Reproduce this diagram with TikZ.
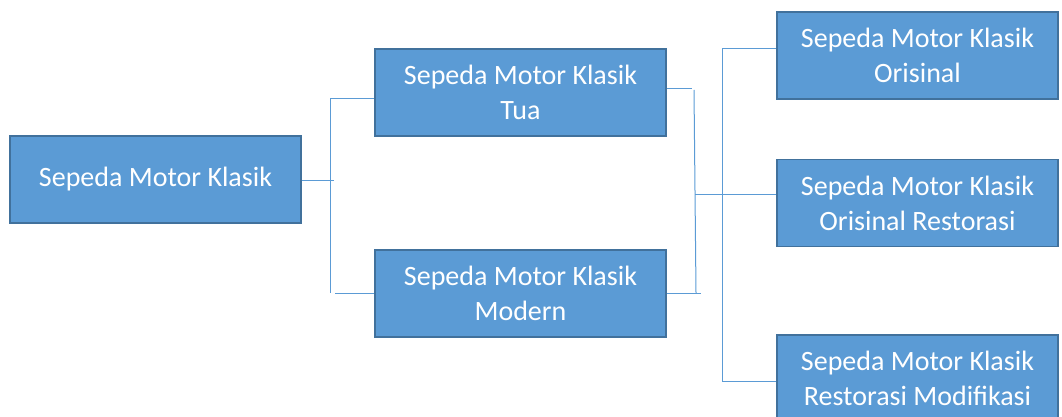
\documentclass[tikz,border=0pt]{standalone}
\usepackage{fontspec}
\setmainfont{Carlito}
\definecolor{boxfill}{HTML}{5B9BD5}
\definecolor{boxedge}{HTML}{41719C}
\definecolor{linkc}{HTML}{5B9BD5}
\tikzset{
  box/.style={draw=boxedge, line width=1.2pt, fill=boxfill, text=white,
    minimum height=87pt, inner sep=0pt, align=center,
    font=\fontsize{28}{35}\selectfont},
  link/.style={draw=linkc, line width=1pt}
}
\begin{document}
\begin{tikzpicture}[x=1pt,y=-1pt]
\useasboundingbox (0,0) rectangle (1062,417);
\clip (0,0) rectangle (1062,417);
\node[box, minimum width=291pt] (a) at (155.5,179.5) {Sepeda Motor Klasik};
\node[box, minimum width=291pt] (b) at (520.5,92.5) {Sepeda Motor Klasik\\Tua};
\node[box, minimum width=291pt] (c) at (520.5,293.5) {Sepeda Motor Klasik\\Modern};
\node[box, minimum width=281pt] (r1) at (917.5,55.5) {Sepeda Motor Klasik\\Orisinal};
\node[box, minimum width=281pt] (r2) at (917.5,203) {Sepeda Motor Klasik\\Orisinal Restorasi};
\node[box, minimum width=281pt] (r3) at (917.5,378.5) {Sepeda Motor Klasik\\Restorasi Modifikasi};
% left connectors
\coordinate (a1) at (334,180);
\coordinate (v1t) at (330,99);
\coordinate (v1b) at (330,293);
\coordinate (c1) at (335,293);
\draw[link] (a.east |- a1) -- (a1);
\draw[link] (v1t) -- (v1b);
\draw[link] (v1t) -- (b.west |- v1t);
\draw[link] (c1) -- (c.west |- c1);
% middle connectors
\coordinate (b2) at (692,89);
\coordinate (v2t) at (694,90);
\coordinate (v2b) at (696,293);
\coordinate (c2) at (701,293);
\coordinate (m2) at (695,194);
\draw[link] (b.east |- b2) -- (b2);
\draw[link] (v2t) -- (v2b);
\draw[link] (c.east |- c2) -- (c2);
\draw[link] (m2) -- (r2.west |- m2);
% right connectors
\coordinate (v3t) at (722,49);
\coordinate (v3b) at (722,381);
\draw[link] (v3t) -- (v3b);
\draw[link] (v3t) -- (r1.west |- v3t);
\draw[link] (v3b) -- (r3.west |- v3b);
\end{tikzpicture}
\end{document}
